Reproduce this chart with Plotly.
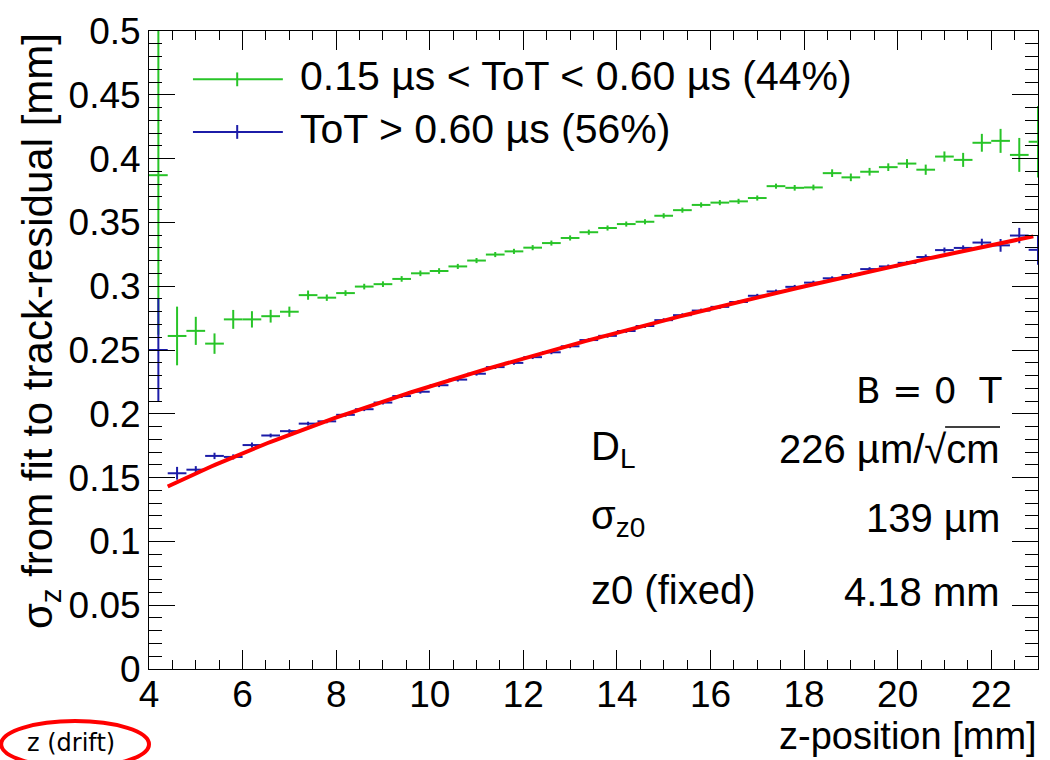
import plotly.graph_objects as go
import numpy as np

# ---------------- data ----------------
z_centers = [4.2, 4.6, 5.0, 5.4, 5.8, 6.2, 6.6, 7.0, 7.4, 7.8,
             8.2, 8.6, 9.0, 9.4, 9.8, 10.2, 10.6, 11.0, 11.4, 11.8,
             12.2, 12.6, 13.0, 13.4, 13.8, 14.2, 14.6, 15.0, 15.4, 15.8,
             16.2, 16.6, 17.0, 17.4, 17.8, 18.2, 18.6, 19.0, 19.4, 19.8,
             20.2, 20.6, 21.0, 21.4, 21.8, 22.2, 22.6, 23.0]
bin_half_width = 0.2

sigma_low_tot = [0.387, 0.261, 0.265, 0.255, 0.274, 0.274, 0.2765, 0.280, 0.293, 0.291,
                 0.2946, 0.2997, 0.3016, 0.3057, 0.3101, 0.3119, 0.3155, 0.3201, 0.3248, 0.3273,
                 0.3302, 0.3338, 0.3378, 0.3423, 0.3456, 0.3487, 0.3505, 0.3552, 0.3596, 0.3637,
                 0.3655, 0.3665, 0.3691, 0.3784, 0.3771, 0.3774, 0.3886, 0.3853, 0.3897, 0.3933,
                 0.3961, 0.3913, 0.4016, 0.3990, 0.4124, 0.4139, 0.4029, 0.4132]
err_low_tot = [0.125, 0.023, 0.011, 0.008, 0.0074, 0.0064, 0.005, 0.004, 0.0036, 0.0025,
               0.0022, 0.0022, 0.0022, 0.0022, 0.0022, 0.0022, 0.002, 0.002, 0.002, 0.002,
               0.002, 0.002, 0.002, 0.002, 0.002, 0.002, 0.002, 0.002, 0.002, 0.002,
               0.002, 0.002, 0.002, 0.002, 0.0022, 0.0022, 0.003, 0.003, 0.003, 0.003,
               0.0035, 0.004, 0.004, 0.0055, 0.007, 0.0094, 0.0133, 0.028]

sigma_high_tot = [0.250, 0.1534, 0.1562, 0.1670, 0.1662, 0.1755, 0.1830, 0.1864, 0.1923, 0.1941,
                  0.1992, 0.2036, 0.2088, 0.2139, 0.2173, 0.2224, 0.2268, 0.2314, 0.2366, 0.2399,
                  0.2444, 0.2482, 0.2529, 0.2578, 0.2611, 0.2649, 0.2688, 0.2734, 0.2773, 0.2809,
                  0.2838, 0.2876, 0.2925, 0.2959, 0.2995, 0.3028, 0.3062, 0.3088, 0.3134, 0.3155,
                  0.3183, 0.3229, 0.3283, 0.3300, 0.3342, 0.3320, 0.3397, 0.3285]
err_high_tot = [0.040, 0.005, 0.0028, 0.0025, 0.002, 0.002, 0.0015, 0.0015, 0.0015, 0.0015,
                0.0015, 0.0015, 0.0015, 0.0015, 0.0015, 0.0015, 0.0015, 0.0015, 0.0015, 0.0015,
                0.0015, 0.0015, 0.0015, 0.0015, 0.0015, 0.0015, 0.0015, 0.0015, 0.0015, 0.0015,
                0.0015, 0.0015, 0.0015, 0.0015, 0.0015, 0.0015, 0.0015, 0.0015, 0.0015, 0.0015,
                0.0015, 0.002, 0.002, 0.002, 0.003, 0.005, 0.006, 0.0116]

# fit parameters (from the plot's text box)
fit_DL_um_per_sqrtcm = 226.0
fit_sigma_z0_um = 139.0
fit_z0_mm = 4.18
fit_range = [4.4, 22.9]

legend_labels = ["0.15 \u00b5s < ToT < 0.60 \u00b5s (44%)", "ToT > 0.60 \u00b5s (56%)"]

GREEN = "#28c428"
BLUE = "#1c1ca8"
RED = "#ff0000"
FONT = "Liberation Sans, Arial, sans-serif"

# fit curve sigma(z) = sqrt(sigma0^2 + D^2 (z - z0))
D_mm = fit_DL_um_per_sqrtcm / 1000.0 / np.sqrt(10.0)
s0_mm = fit_sigma_z0_um / 1000.0
z_fit = np.linspace(fit_range[0], fit_range[1], 200)
s_fit = np.sqrt(s0_mm ** 2 + D_mm ** 2 * (z_fit - fit_z0_mm))

fig = go.Figure()
for y, e, c in [(sigma_low_tot, err_low_tot, GREEN), (sigma_high_tot, err_high_tot, BLUE)]:
    fig.add_trace(go.Scatter(
        x=z_centers, y=y, mode="markers",
        marker=dict(size=1, color=c),
        error_x=dict(type="constant", value=bin_half_width, width=0, thickness=2, color=c),
        error_y=dict(type="data", array=e, width=0, thickness=2, color=c),
        showlegend=False))
fig.add_trace(go.Scatter(x=z_fit, y=s_fit, mode="lines",
                         line=dict(color=RED, width=4), showlegend=False))

# ---- pixel helpers for decorations ----
L, R, T, B = 149, 1039, 22.7, 669.3
def px(xp):
    return (xp - L) / (R - L)
def py(yp):
    return (B - yp) / (B - T)

shapes = []
annots = []
# legend samples
for (yl, c, lbl) in [(71.7, GREEN, legend_labels[0]), (125, BLUE, legend_labels[1])]:
    shapes.append(dict(type="line", xref="paper", yref="paper", x0=px(193), x1=px(283),
                       y0=py(yl), y1=py(yl), line=dict(color=c, width=2)))
    shapes.append(dict(type="line", xref="paper", yref="paper", x0=px(237.3), x1=px(237.3),
                       y0=py(yl - 7), y1=py(yl + 7), line=dict(color=c, width=2)))
    annots.append(dict(xref="paper", yref="paper", x=px(298), y=py(yl - 3), text=lbl,
                       xanchor="left", yanchor="middle", showarrow=False,
                       font=dict(family=FONT, size=41, color="black")))

# fit info box
txt_font = dict(family=FONT, size=40, color="black")
annots += [
    dict(x=px(1006), y=py(387), text="B = 0  T", xanchor="right", yanchor="middle",
         font=dict(family="DejaVu Sans, sans-serif", size=36, color="black")),
    dict(x=px(589), y=py(446), text="D<sub>L</sub>", xanchor="left", yanchor="middle", font=txt_font),
    dict(x=px(1003), y=py(446), text="226 \u00b5m/\u221acm", xanchor="right", yanchor="middle", font=txt_font),
    dict(x=px(589), y=py(516), text="\u03c3<sub>z0</sub>", xanchor="left", yanchor="middle", font=txt_font),
    dict(x=px(1003), y=py(516), text="139 \u00b5m", xanchor="right", yanchor="middle", font=txt_font),
    dict(x=px(589), y=py(589), text="z0 (fixed)", xanchor="left", yanchor="middle", font=txt_font),
    dict(x=px(1003), y=py(591), text="4.18 mm", xanchor="right", yanchor="middle", font=txt_font),
]
for a in annots[-7:]:
    a.update(xref="paper", yref="paper", showarrow=False)
# overline on sqrt
shapes.append(dict(type="line", xref="paper", yref="paper", x0=px(946), x1=px(1001),
                   y0=py(424), y1=py(424), line=dict(color="black", width=1.5)))

# axis titles
annots.append(dict(xref="paper", yref="paper", x=px(1040), y=py(737), text="z-position [mm]",
                   xanchor="right", yanchor="middle", showarrow=False,
                   font=dict(family=FONT, size=38, color="black")))
annots.append(dict(xref="paper", yref="paper", x=px(40), y=1.0,
                   text="\u03c3<sub>z</sub> from fit to track-residual [mm]", textangle=-90,
                   xanchor="center", yanchor="top", showarrow=False,
                   font=dict(family=FONT, size=42, color="black")))

# bottom-left "z (drift)" with red ellipse
annots.append(dict(xref="paper", yref="paper", x=px(71), y=py(744), text="z (drift)",
                   xanchor="center", yanchor="middle", showarrow=False,
                   font=dict(family="DejaVu Sans, sans-serif", size=24, color="black")))
shapes.append(dict(type="circle", xref="paper", yref="paper", x0=px(1), x1=px(149),
                   y0=py(769), y1=py(722), line=dict(color=RED, width=4)))

axis_common = dict(showline=True, linecolor="black", linewidth=1, mirror="allticks",
                   ticks="inside", tickcolor="black", tickwidth=1, showgrid=False,
                   zeroline=False, tickfont=dict(family=FONT, size=37, color="black"))
fig.update_layout(
    width=1050, height=760,
    margin=dict(l=L, r=1050 - R, t=T, b=760 - B),
    plot_bgcolor="white", paper_bgcolor="white",
    showlegend=False, shapes=shapes, annotations=annots,
    xaxis=dict(range=[4, 23], tick0=4, dtick=2, ticklen=19, ticklabelstandoff=-7,
               minor=dict(dtick=0.5, ticks="inside", ticklen=9, tickcolor="black"),
               **axis_common),
    yaxis=dict(range=[0, 0.5], tick0=0, dtick=0.05, ticklen=26,
               minor=dict(dtick=0.01, ticks="inside", ticklen=13, tickcolor="black"),
               **axis_common),
)

fig.write_html("out.html", config={"displayModeBar": False},
               post_script="document.body.style.margin='0px';document.body.style.overflow='hidden';")
